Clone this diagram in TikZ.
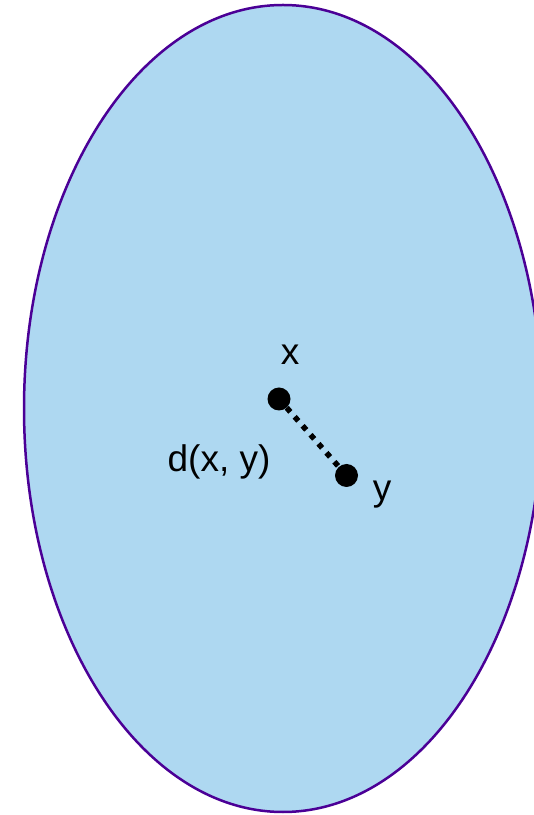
\documentclass[tikz,border=0pt]{standalone}
\usepackage{fontspec}
\setmainfont{Liberation Sans}
\usetikzlibrary{shapes.geometric}
\definecolor{setfill}{HTML}{AED8F1}
\definecolor{setline}{HTML}{4B0096}
\tikzset{
  pt/.style={circle,fill=black,inner sep=0pt,minimum size=23pt},
  lbl/.style={inner sep=0pt,font=\fontsize{37}{40}\selectfont},
  distline/.style={line width=5.5pt,dash pattern=on 5.5pt off 6.5pt,black}
}
\begin{document}
\begin{tikzpicture}[x=1pt,y=1pt]
\useasboundingbox (0,0) rectangle (534,815);
\clip (0,0) rectangle (534,815);
\node[ellipse,draw=setline,fill=setfill,line width=2.5pt,minimum width=518pt,minimum height=807pt,inner sep=0pt] (set) at (283,406.5) {};
\node[pt] (x) at (279,416) {};
\node[pt] (y) at (346.5,339.5) {};
\draw[distline] (x) -- (y);
\node[lbl] (xl) at (290,460) {x};
\node[lbl] (yl) at (382,320) {y};
\node[lbl] (dl) at (219,353) {d(x, y)};
\end{tikzpicture}
\end{document}
